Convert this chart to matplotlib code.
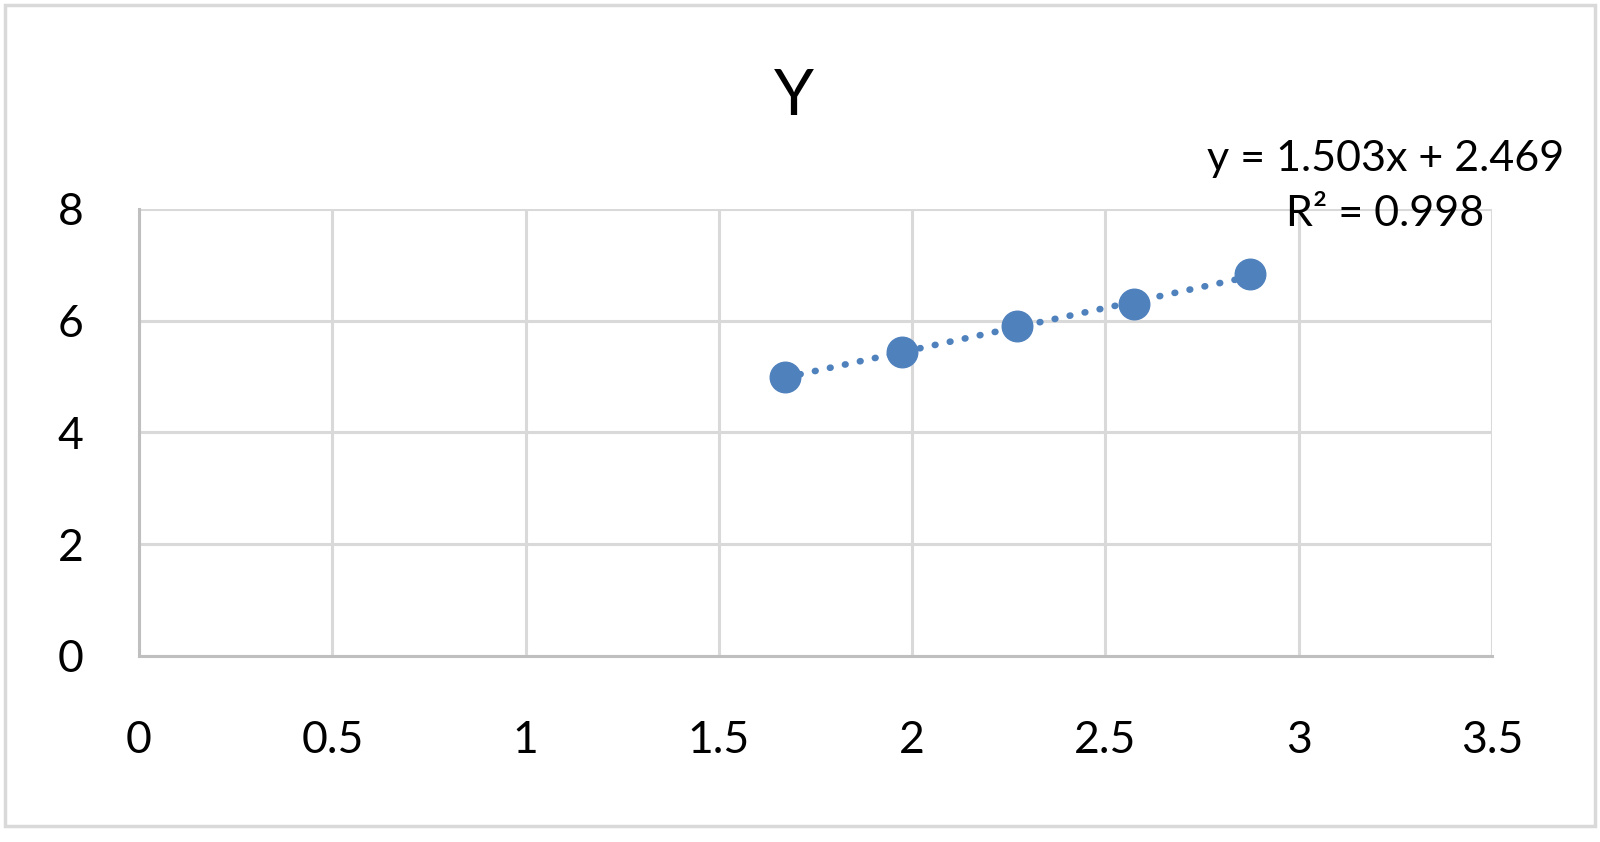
import numpy as np
import matplotlib.pyplot as plt
from matplotlib.patches import Rectangle

x = [1.671, 1.974, 2.272, 2.573, 2.874]
y = [4.99, 5.44, 5.90, 6.30, 6.83]
x_ticks = [0, 0.5, 1, 1.5, 2, 2.5, 3, 3.5]
x_labels = ['0', '0.5', '1', '1.5', '2', '2.5', '3', '3.5']
y_ticks = [0, 2, 4, 6, 8]
slope, intercept = 1.503, 2.469
r2 = 0.998

blue = '#4f81bd'
plt.rcParams['font.family'] = ['Lato', 'DejaVu Sans']

fig = plt.figure(figsize=(16, 8.42), dpi=100)
ax = fig.add_axes([0.0869, 0.221, 0.8456, 0.531])

# trendline over the data range
xs = np.array([min(x), max(x)])
ax.plot(xs, slope * xs + intercept, color=blue, lw=4.8,
        linestyle=(0, (0.1, 2.2)), dash_capstyle='round', zorder=3)
ax.plot(x, y, 'o', color=blue, markersize=22, zorder=4)

ax.set_xlim(0, 3.5)
ax.set_ylim(0, 8)
ax.set_xticks(x_ticks)
ax.set_xticklabels(x_labels)
ax.set_yticks(y_ticks)
ax.grid(True, color='#d9d9d9', lw=2.2)
ax.set_axisbelow(True)
for s in ['top', 'right']:
    ax.spines[s].set_visible(False)
for s in ['left', 'bottom']:
    ax.spines[s].set_color('#bfbfbf')
    ax.spines[s].set_linewidth(2.2)
ax.tick_params(length=0, labelsize=32)
ax.tick_params(axis='x', pad=46)
ax.tick_params(axis='y', pad=40)

fig.text(0.496, 0.885, 'Y', ha='center', va='center', fontsize=46)
fig.text(0.866, 0.778, f'y = {slope:.3f}x + {intercept:.3f}\nR² = {r2:.3f}',
         ha='center', va='center', fontsize=31, linespacing=1.55)

fig.patches.append(Rectangle((5 / 1600, 16 / 842), 1590 / 1600, 821 / 842,
                             transform=fig.transFigure, fill=False,
                             edgecolor='#d9d9d9', lw=2.5))

fig.savefig('out.png', dpi=100)
